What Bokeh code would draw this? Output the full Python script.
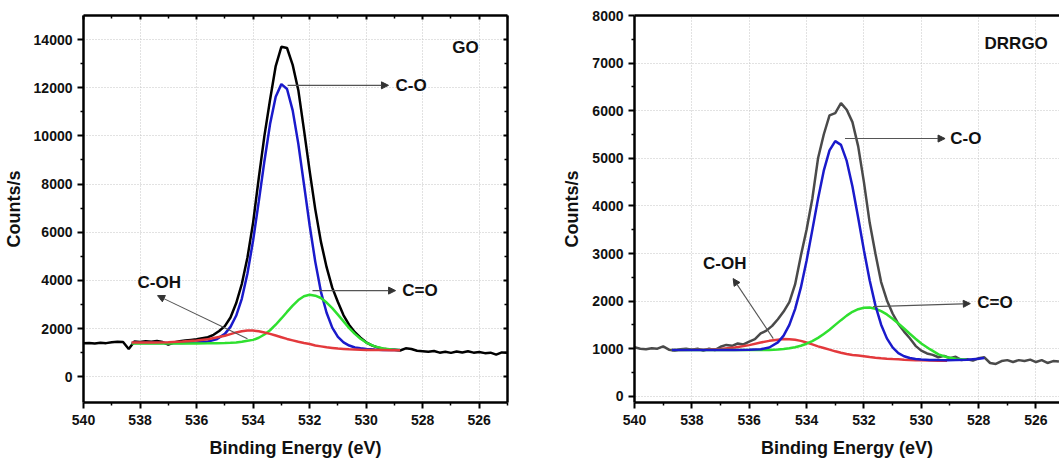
from bokeh.plotting import figure
from bokeh.layouts import row
from bokeh.models import FixedTicker, LinearAxis, Range1d, Label, Arrow, NormalHead, CustomJSTickFormatter
from bokeh.embed import file_html
from bokeh.resources import INLINE

FONT = "Liberation Sans"

# ---------------- GO panel data ----------------
go_fit_x = [538.3, 538.0, 537.5, 537.0, 536.5, 536.0, 535.6, 535.3, 535.0, 534.8, 534.6, 534.4,
            534.2, 534.0, 533.8, 533.6, 533.4, 533.2, 533.0, 532.8, 532.6, 532.4, 532.2, 532.0,
            531.8, 531.6, 531.4, 531.2, 531.0, 530.8, 530.6, 530.4, 530.2, 530.0, 529.7, 529.4,
            529.1, 528.8]
go_co = [1400, 1400, 1400, 1400, 1405, 1420, 1460, 1550, 1780, 2070, 2530, 3235, 4290, 5655,
         7270, 8950, 10490, 11630, 12150, 11950, 11060, 9670, 7990, 6290, 4770, 3525, 2655,
         2040, 1655, 1430, 1295, 1215, 1180, 1150, 1130, 1115, 1110, 1105]
go_cdo = [1380, 1380, 1380, 1380, 1382, 1385, 1390, 1395, 1400, 1410, 1425, 1450, 1490, 1530,
          1620, 1755, 1930, 2160, 2420, 2690, 2955, 3185, 3345, 3405, 3365, 3270, 3080, 2850,
          2580, 2300, 2020, 1780, 1580, 1420, 1260, 1170, 1130, 1115]
go_coh = [1420, 1420, 1425, 1435, 1460, 1500, 1560, 1630, 1700, 1770, 1840, 1890, 1915, 1915,
          1890, 1840, 1780, 1710, 1640, 1570, 1510, 1450, 1400, 1360, 1300, 1260, 1220, 1195,
          1170, 1155, 1140, 1130, 1120, 1115, 1110, 1105, 1100, 1100]
go_raw_x = [540.0, 539.8, 539.6, 539.4, 539.2, 539.0, 538.8, 538.6, 538.4, 538.2, 538.0, 537.8,
            537.6, 537.4, 537.2, 537.0, 536.8, 536.6, 536.4, 536.2, 536.0, 535.8, 535.6, 535.4,
            535.2, 535.0, 534.8, 534.6, 534.4, 534.2, 534.0, 533.8, 533.6, 533.4, 533.2, 533.0,
            532.8, 532.6, 532.4, 532.2, 532.0, 531.8, 531.6, 531.4, 531.2, 531.0, 530.8, 530.6,
            530.4, 530.2, 530.0, 529.8, 529.6, 529.4, 529.2, 529.0, 528.8, 528.6, 528.4, 528.2,
            528.0, 527.8, 527.6, 527.4, 527.2, 527.0, 526.8, 526.6, 526.4, 526.2, 526.0, 525.8,
            525.6, 525.4, 525.2, 525.0]
go_raw_y = [1390, 1400, 1380, 1410, 1395, 1430, 1450, 1440, 1150, 1460, 1440, 1470,
            1450, 1480, 1440, 1330, 1420, 1470, 1500, 1530, 1560, 1600, 1640, 1740,
            1900, 2100, 2460, 3050, 3850, 4950, 6400, 8250, 10000, 11500, 12900, 13700,
            13650, 12950, 11900, 10250, 8550, 6950, 5600, 4550, 3700, 3100, 2550, 2150,
            1850, 1620, 1430, 1300, 1220, 1160, 1130, 1120, 1090, 1180, 1150, 1080,
            1060, 1040, 1070, 1000, 1040, 990, 1050, 1010, 1060, 1000, 1030, 980,
            1000, 920, 1010, 1000]

# ---------------- DRRGO panel data ----------------
dr_fit_x = [538.7, 538.0, 537.5, 537.0, 536.5, 536.0, 535.6, 535.3, 535.0, 534.8, 534.6, 534.4,
            534.2, 534.0, 533.8, 533.6, 533.4, 533.2, 533.0, 532.8, 532.6, 532.4, 532.2, 532.0,
            531.8, 531.6, 531.4, 531.2, 531.0, 530.8, 530.6, 530.4, 530.2, 530.0, 529.7, 529.4,
            529.1, 528.8, 528.4, 528.0, 527.8]
dr_co = [975, 975, 975, 975, 975, 976, 987, 1026, 1133, 1274, 1500, 1833, 2283, 2847, 3491,
         4151, 4741, 5168, 5361, 5282, 4945, 4406, 3750, 3067, 2437, 1910, 1505, 1217, 1027,
         909, 841, 804, 784, 773, 765, 762, 760, 762, 770, 790, 805]
dr_cdo = [975, 975, 975, 975, 975, 972, 973, 975, 982, 992, 1008, 1032, 1062, 1105, 1160,
          1228, 1310, 1400, 1500, 1600, 1695, 1775, 1830, 1860, 1865, 1840, 1790, 1720, 1630,
          1530, 1425, 1315, 1210, 1110, 990, 880, 820, 790, 770]
dr_coh = [975, 977, 982, 995, 1025, 1075, 1130, 1165, 1190, 1202, 1200, 1188, 1165, 1130,
          1090, 1050, 1015, 980, 945, 915, 890, 870, 855, 840, 825, 812, 800, 790, 782, 776,
          770, 765, 760, 756, 752, 748, 745]
dr_raw_x = [540.0, 539.8, 539.6, 539.4, 539.2, 539.0, 538.8, 538.6, 538.4, 538.2, 538.0, 537.8,
            537.6, 537.4, 537.2, 537.0, 536.8, 536.6, 536.4, 536.2, 536.0, 535.8, 535.6, 535.4,
            535.2, 535.0, 534.8, 534.6, 534.4, 534.2, 534.0, 533.8, 533.6, 533.4, 533.2, 533.0,
            532.8, 532.6, 532.4, 532.2, 532.0, 531.8, 531.6, 531.4, 531.2, 531.0, 530.8, 530.6,
            530.4, 530.2, 530.0, 529.8, 529.6, 529.4, 529.2, 529.0, 528.8, 528.6, 528.4, 528.2,
            528.0, 527.8, 527.6, 527.4, 527.2, 527.0, 526.8, 526.6, 526.4, 526.2, 526.0, 525.8,
            525.6, 525.4, 525.2]
dr_raw_y = [1030, 1000, 990, 1010, 1000, 1050, 980, 960, 990, 1000, 980, 1000,
            960, 1000, 970, 1040, 1080, 1060, 1110, 1090, 1150, 1200, 1320, 1380,
            1480, 1620, 1780, 1980, 2350, 2950, 3500, 4150, 5000, 5500, 5900, 5950,
            6160, 6020, 5760, 5250, 4500, 3650, 3000, 2400, 2020, 1740, 1520, 1360,
            1220, 1060, 960, 900, 870, 820, 850, 800, 830, 760, 780, 750,
            800, 820, 700, 680, 740, 760, 720, 760, 740, 770, 720, 760,
            700, 740, 730]

# ticks
x_major = [540, 538, 536, 534, 532, 530, 528, 526]
x_minor = [539, 537, 535, 533, 531, 529, 527, 525]
go_y_major = [0, 2000, 4000, 6000, 8000, 10000, 12000, 14000]
go_y_minor = [1000, 3000, 5000, 7000, 9000, 11000, 13000]
dr_y_major = [0, 1000, 2000, 3000, 4000, 5000, 6000, 7000, 8000]
dr_y_minor = [500, 1500, 2500, 3500, 4500, 5500, 6500, 7500]

# annotations: (text, x, y)
go_title = ("GO", 526.49, 13680)
go_labels = [("C-O", 528.96, 12100), ("C=O", 528.72, 3576), ("C-OH", 538.09, 3909)]
go_arrows = [(532.78, 12100, 529.21, 12100), (531.9, 3576, 528.96, 3576), (534.2, 1580, 537.38, 3368)]
dr_title = ("DRRGO", 526.69, 7411)
dr_labels = [("C-O", 528.99, 5415), ("C=O", 528.05, 1969), ("C-OH", 537.61, 2788)]
dr_arrows = [(532.66, 5415, 529.17, 5415), (531.68, 1885, 528.29, 1948), (535.16, 1212, 536.56, 2473)]

BLUE = "#1a1acb"
GREEN = "#2fe02f"
RED = "#e3393c"


def style_axis(ax):
    ax.axis_line_width = 2.5
    ax.axis_line_color = "black"
    ax.major_tick_line_width = 2
    ax.minor_tick_line_width = 1.5
    ax.major_tick_line_color = "black"
    ax.minor_tick_line_color = "black"
    ax.major_label_text_font = FONT
    ax.major_label_text_font_style = "bold"
    ax.major_label_text_font_size = "14px"
    ax.major_label_text_color = "#111111"
    ax.axis_label_text_font = FONT
    ax.axis_label_text_font_style = "bold"
    ax.axis_label_text_font_size = "18px"
    ax.axis_label_text_color = "#111111"


def make_panel(width, bl, br, x_end, y_rng, ymaj, ymin, mirror):
    p = figure(width=width, height=464, x_range=Range1d(540, x_end), y_range=Range1d(*y_rng),
               output_backend="svg", toolbar_location=None,
               min_border_left=bl, min_border_right=br, min_border_top=15, min_border_bottom=62,
               x_axis_label="Binding Energy (eV)", y_axis_label="Counts/s")
    p.outline_line_color = None
    p.background_fill_color = "white"
    p.border_fill_color = "white"
    xa = p.xaxis[0]
    ya = p.yaxis[0]
    xa.ticker = FixedTicker(ticks=x_major, minor_ticks=x_minor)
    ya.ticker = FixedTicker(ticks=ymaj, minor_ticks=ymin)
    for ax in (xa, ya):
        style_axis(ax)
        ax.major_tick_in = 0
        ax.major_tick_out = 6
        ax.minor_tick_in = 0
        ax.minor_tick_out = 3
    xa.major_label_standoff = 6
    xa.axis_label_standoff = 10
    ya.major_label_standoff = 5
    ya.axis_label_standoff = 7
    for g in (p.xgrid[0], p.ygrid[0]):
        g.grid_line_color = "#c4c4c4"
        g.grid_line_dash = "1 2"
        g.grid_line_width = 1
    p.xgrid[0].ticker = FixedTicker(ticks=x_major)
    p.ygrid[0].ticker = FixedTicker(ticks=ymaj)
    if mirror:
        top = LinearAxis(ticker=FixedTicker(ticks=x_major, minor_ticks=x_minor),
                         formatter=CustomJSTickFormatter(code="return ''"))
        right = LinearAxis(ticker=FixedTicker(ticks=ymaj, minor_ticks=ymin),
                           formatter=CustomJSTickFormatter(code="return ''"))
        for ax in (top, right):
            style_axis(ax)
            ax.major_tick_in = 4
            ax.major_tick_out = 0
            ax.minor_tick_in = 3
            ax.minor_tick_out = 0
            ax.major_label_standoff = 0
        p.add_layout(top, "above")
        p.add_layout(right, "right")
    else:
        top = LinearAxis(ticker=FixedTicker(ticks=[]), formatter=CustomJSTickFormatter(code="return ''"))
        style_axis(top)
        top.major_label_standoff = 0
        p.add_layout(top, "above")
    return p


def annotate(p, title, labels, arrows):
    p.add_layout(Label(x=title[1], y=title[2], text=title[0], text_font=FONT,
                       text_font_style="bold", text_font_size="17px", text_color="#111111",
                       text_align="center", text_baseline="middle"))
    for t, x, y in labels:
        p.add_layout(Label(x=x, y=y, text=t, text_font=FONT, text_font_style="bold",
                           text_font_size="17px", text_color="#111111",
                           text_align="left", text_baseline="middle"))
    for xs, ys, xe, ye in arrows:
        p.add_layout(Arrow(end=NormalHead(size=7, fill_color="#333333", line_color="#333333",
                                          line_width=1),
                           x_start=xs, y_start=ys, x_end=xe, y_end=ye,
                           line_color="#555555", line_width=1.1))


# GO panel
p1 = make_panel(540, 83, 33, 525, (-1070, 15000), go_y_major, go_y_minor, True)
p1.line(go_raw_x, go_raw_y, line_color="black", line_width=2.5)
p1.line(go_fit_x, go_co, line_color=BLUE, line_width=2.5)
p1.line(go_fit_x, go_cdo, line_color=GREEN, line_width=2.5)
p1.line(go_fit_x, go_coh, line_color=RED, line_width=2.5)
annotate(p1, go_title, go_labels, go_arrows)

# DRRGO panel
p2 = make_panel(519, 94, 0, 525.18, (-130, 8000), dr_y_major, dr_y_minor, False)
p2.line(dr_raw_x, dr_raw_y, line_color="#4a4a4a", line_width=2.5)
p2.line(dr_fit_x[:len(dr_coh)], dr_coh, line_color=RED, line_width=2.5)
p2.line(dr_fit_x[:len(dr_cdo)], dr_cdo, line_color=GREEN, line_width=2.5)
p2.line(dr_fit_x, dr_co, line_color=BLUE, line_width=2.5)
annotate(p2, dr_title, dr_labels, dr_arrows)

layout = row(p1, p2)
open("out.html", "w").write(file_html(layout, INLINE))
